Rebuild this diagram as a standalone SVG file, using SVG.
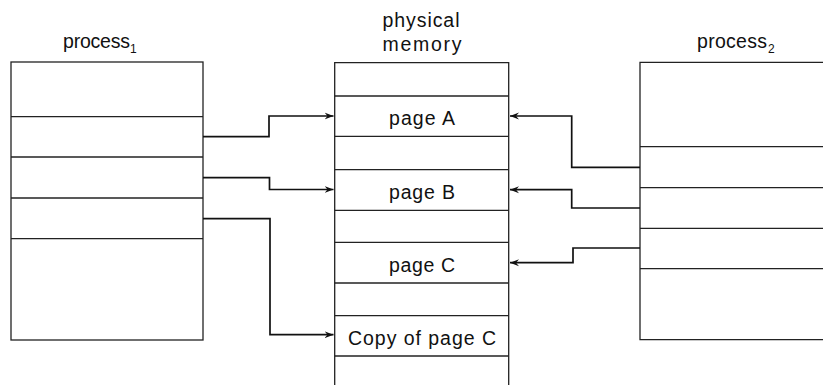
<svg xmlns="http://www.w3.org/2000/svg" width="823" height="385" viewBox="0 0 823 385">
<style>
.box{fill:none;stroke:#222;stroke-width:1.3}
.ln{stroke:#222;stroke-width:1.3}
.con{fill:none;stroke:#111;stroke-width:1.7}
.t{font-family:"Liberation Sans",Arial,sans-serif;font-size:19.5px;fill:#111}
.sub{font-family:"Liberation Sans",Arial,sans-serif;font-size:12px;fill:#111}
</style>
<defs>
<marker id="arr" viewBox="0 0 9 8" refX="9" refY="4" markerWidth="9" markerHeight="8" markerUnits="userSpaceOnUse" orient="auto">
<path d="M0,0.5 L9,4 L0,7.5 L3,4 z" fill="#111"/>
</marker>
</defs>
<rect width="823" height="385" fill="#fff"/>

<g id="process1">
<text class="t" x="63" y="48" textLength="67">process</text>
<text class="sub" x="130" y="53">1</text>
<rect class="box" x="11" y="62" width="192" height="278"/>
<line class="ln" x1="11" y1="116.7" x2="203" y2="116.7"/>
<line class="ln" x1="11" y1="157" x2="203" y2="157"/>
<line class="ln" x1="11" y1="198" x2="203" y2="198"/>
<line class="ln" x1="11" y1="238.7" x2="203" y2="238.7"/>
</g>

<g id="memory">
<text class="t" x="421" y="27" text-anchor="middle" textLength="77">physical</text>
<text class="t" x="422" y="51" text-anchor="middle" textLength="79">memory</text>
<path class="box" d="M334.7,390 V62.7 H508.7 V390"/>
<line class="ln" x1="334.7" y1="96" x2="508.7" y2="96"/>
<line class="ln" x1="334.7" y1="136.3" x2="508.7" y2="136.3"/>
<line class="ln" x1="334.7" y1="169.7" x2="508.7" y2="169.7"/>
<line class="ln" x1="334.7" y1="210.3" x2="508.7" y2="210.3"/>
<line class="ln" x1="334.7" y1="242.3" x2="508.7" y2="242.3"/>
<line class="ln" x1="334.7" y1="283" x2="508.7" y2="283"/>
<line class="ln" x1="334.7" y1="315.7" x2="508.7" y2="315.7"/>
<line class="ln" x1="334.7" y1="356" x2="508.7" y2="356"/>
<text class="t" x="422" y="125" text-anchor="middle" textLength="66">page A</text>
<text class="t" x="422" y="199" text-anchor="middle" textLength="66">page B</text>
<text class="t" x="422" y="272" text-anchor="middle" textLength="66">page C</text>
<text class="t" x="422" y="344.5" text-anchor="middle" textLength="148">Copy of page C</text>
</g>

<g id="process2">
<text class="t" x="697" y="48" textLength="70">process</text>
<text class="sub" x="768" y="53">2</text>
<path class="box" d="M830,62.3 H640 V339.7 H830"/>
<line class="ln" x1="640" y1="146.7" x2="823" y2="146.7"/>
<line class="ln" x1="640" y1="187.7" x2="823" y2="187.7"/>
<line class="ln" x1="640" y1="228.3" x2="823" y2="228.3"/>
<line class="ln" x1="640" y1="268.7" x2="823" y2="268.7"/>
</g>

<g id="connectors">
<path class="con" d="M203,136.7 H269 V116 H333.5" marker-end="url(#arr)"/>
<path class="con" d="M203,177.7 H269.5 V189.5 H333.5" marker-end="url(#arr)"/>
<path class="con" d="M203,218.7 H270 V334.7 H333.5" marker-end="url(#arr)"/>
<path class="con" d="M640,167.3 H571.7 V116 H510" marker-end="url(#arr)"/>
<path class="con" d="M640,208 H571.7 V189.7 H510" marker-end="url(#arr)"/>
<path class="con" d="M640,248 H573 V262.7 H510" marker-end="url(#arr)"/>
</g>
</svg>
